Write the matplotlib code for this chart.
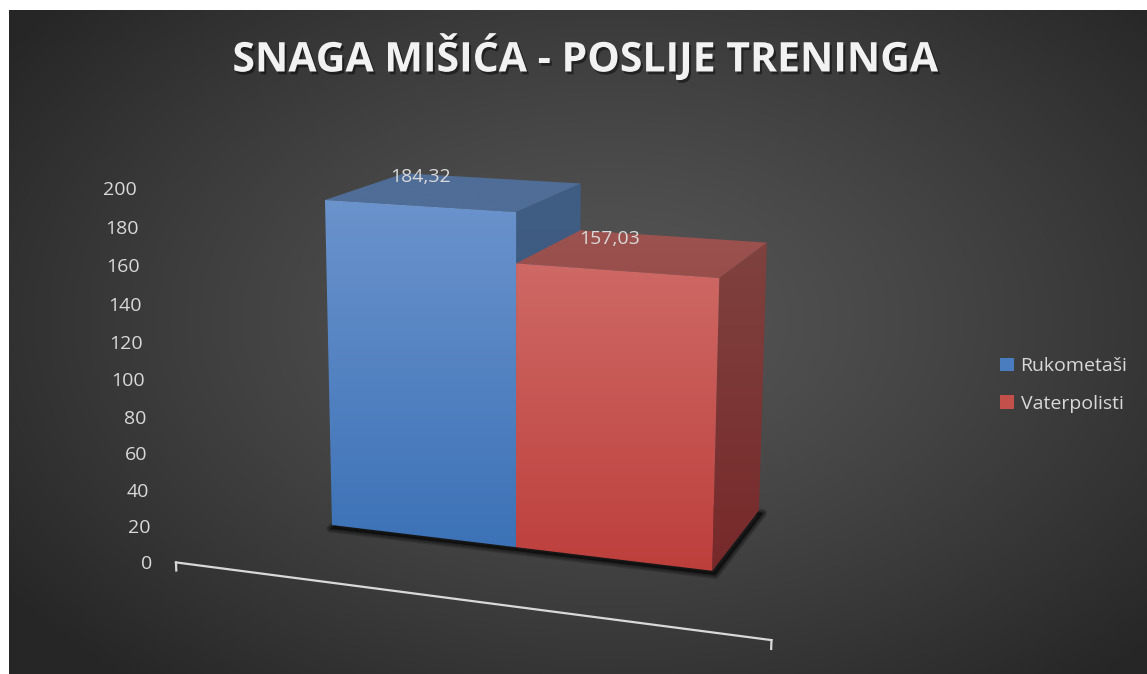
import numpy as np
import matplotlib
matplotlib.use("Agg")
import matplotlib.pyplot as plt
from matplotlib.patches import Polygon, Patch
from matplotlib.colors import LinearSegmentedColormap
import matplotlib.patheffects as pe

# data
categories = ["Rukometaši", "Vaterpolisti"]
values = [184.32, 157.03]
value_labels = ["184,32", "157,03"]
y_ticks = [0, 20, 40, 60, 80, 100, 120, 140, 160, 180, 200]
title = "SNAGA MIŠIĆA - POSLIJE TRENINGA"

W, H = 1147, 674
plt.rcParams['font.family'] = ['Open Sans', 'DejaVu Sans']

# perspective camera: vanishing points (pixels) + unit weights, world = (category, value, depth)
VP_X = (-5360.0, -160.0)
VP_Y = (512.0, 8870.0)
VP_Z = (1237.0, -107.0)
ORIGIN = (332.0, 525.0)
KX, KY, KZ = -0.03131, -0.0002034, 0.09167
FLOOR_X = (-0.4625, 2.4625)
FLOOR_Z = -0.78


def proj(x, y, z):
    a, b, c = KX * x, KY * y, KZ * z
    w = 1 + a + b + c
    u = (a * VP_X[0] + b * VP_Y[0] + c * VP_Z[0] + ORIGIN[0]) / w
    v = (a * VP_X[1] + b * VP_Y[1] + c * VP_Z[1] + ORIGIN[1]) / w
    return u, v


def face(pts):
    return np.array([proj(*p) for p in pts])


def grad_face(ax, pts, c_top, c_bot, z):
    poly = Polygon(pts, closed=True, facecolor='none', edgecolor='none')
    ax.add_patch(poly)
    cmap = LinearSegmentedColormap.from_list('g', [c_top, c_bot])
    g = np.linspace(0, 1, 256)[:, None]
    im = ax.imshow(g, cmap=cmap, aspect='auto', interpolation='bilinear',
                   extent=(pts[:, 0].min(), pts[:, 0].max(), pts[:, 1].max(), pts[:, 1].min()),
                   zorder=z)
    im.set_clip_path(poly)


fig = plt.figure(figsize=(W / 100, H / 100), dpi=100, facecolor='white')
ax = fig.add_axes([0, 0, 1, 1])
ax.axis('off')

# background radial gradient
yy, xx = np.mgrid[10:H, 9:W]
r = np.sqrt(((xx - 610) / 740.0) ** 2 + ((yy - 320) / 480.0) ** 2)
bg = (0x56 - (0x56 - 0x26) * np.clip(r, 0, 1) ** 1.25) / 255.0
ax.imshow(np.dstack([bg, bg, bg]), extent=(9, W, H, 10), aspect='auto',
          interpolation='bilinear', zorder=0)

# soft shadow under the bars
foot = face([(-0.01, 0, -0.02), (2.01, 0, -0.02), (2.01, 0, 1.0), (-0.01, 0, 1.0)])
foot = foot + np.array([2.0, 2.5])
for k in range(7):
    ax.add_patch(Polygon(foot, closed=True, facecolor='black', edgecolor='black',
                         linewidth=(7 - k) * 0.9, alpha=0.09, joinstyle='round', zorder=1))

colors = {
    0: dict(front=('#6b93cc', '#3c72b7'), top=('#4f6e97', '#4f6d96'), side=('#405d84', '#3a557a')),
    1: dict(front=('#ce6965', '#bd3f3c'), top=('#9c524e', '#984f4b'), side=('#7f423f', '#77292a')),
}

z = 2
for i, v in enumerate(values):
    x0, x1 = i, i + 1
    side = face([(x1, v, 0), (x1, v, 1), (x1, 0, 1), (x1, 0, 0)])
    top = face([(x0, v, 0), (x1, v, 0), (x1, v, 1), (x0, v, 1)])
    front = face([(x0, v, 0), (x1, v, 0), (x1, 0, 0), (x0, 0, 0)])
    grad_face(ax, side, *colors[i]['side'], z)
    grad_face(ax, top, *colors[i]['top'], z + 1)
    grad_face(ax, front, *colors[i]['front'], z + 2)
    z += 3
    cx, cy = proj(x0 + 0.5, v, 0.5)
    ax.annotate(value_labels[i], xy=(cx, cy), xytext=(-36, 14), textcoords='offset pixels',
                ha='center', va='center', fontsize=14, color='#d9d9d9', zorder=20)

# category axis line (floor front edge)
lx0, ly0 = proj(FLOOR_X[0], 0, FLOOR_Z)
lx1, ly1 = proj(FLOOR_X[1], 0, FLOOR_Z)
ax.plot([lx0, lx1], [ly0, ly1], color='#d9d9d9', lw=1.6, zorder=20)
for fx in FLOOR_X:
    tx0, ty0 = proj(fx, 0, FLOOR_Z)
    tx1, ty1 = proj(fx, -4.5, FLOOR_Z)
    ax.plot([tx0, tx1], [ty0, ty1], color='#d9d9d9', lw=1.6, zorder=20)

# value axis labels
for t in y_ticks:
    tx, ty = proj(FLOOR_X[0], t, FLOOR_Z)
    ax.annotate(str(t), xy=(tx, ty), xytext=(-24, -2), textcoords='offset pixels',
                ha='right', va='center', fontsize=14, color='#d9d9d9', zorder=20)

ax.text(585, 58, title, ha='center', va='center', fontsize=29.5, fontweight='bold',
        color='#f2f2f2', zorder=20,
        path_effects=[pe.withSimplePatchShadow(offset=(1.5, -2), shadow_rgbFace='black', alpha=0.45)])

handles = [Patch(facecolor=c, edgecolor='none') for c in ['#4a7cc0', '#c4504c']]
leg = ax.legend(handles, categories, loc='center left', bbox_to_anchor=(1000 / W, 1 - 385 / H),
                frameon=False, fontsize=14, labelcolor='#d9d9d9', handlelength=0.7,
                handleheight=0.7, handletextpad=0.36, labelspacing=1.0, borderpad=0,
                borderaxespad=0)

ax.set_xlim(0, W)
ax.set_ylim(H, 0)

fig.savefig('out.png', dpi=100, facecolor='white')
